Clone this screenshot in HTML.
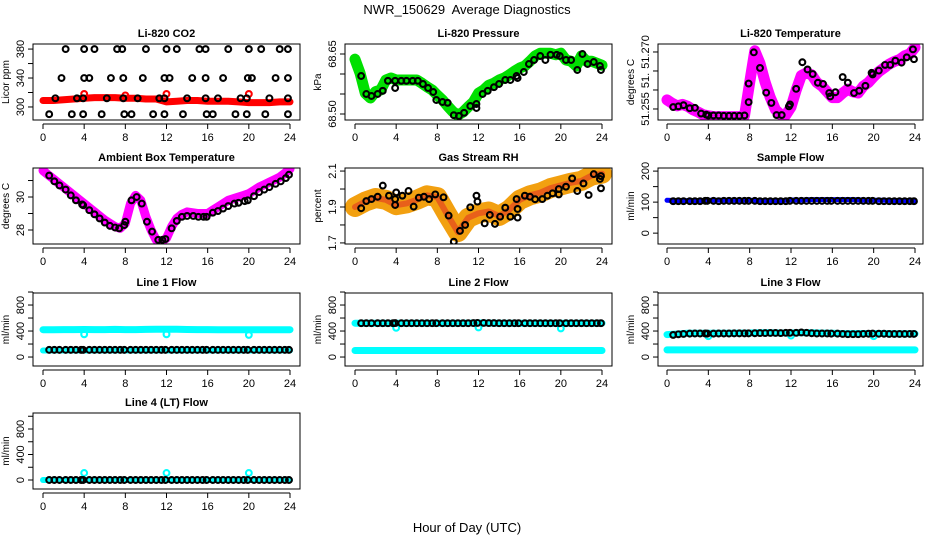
<!DOCTYPE html>
<html><head><meta charset="utf-8"><style>
html,body{margin:0;padding:0;background:#fff;}
svg{display:block;font-family:"Liberation Sans",Arial,sans-serif;}
</style></head><body>
<svg id="chart" width="936" height="540" viewBox="0 0 936 540">
<text x="467" y="14" font-size="13" text-anchor="middle">NWR_150629&#160; Average Diagnostics</text>
<text x="467" y="532" font-size="13" text-anchor="middle">Hour of Day (UTC)</text>
</svg>
<script>
// ---------- data ----------
const xTicks = [0,4,8,12,16,20,24];
const hourly = [0,1,2,3,4,5,6,7,8,9,10,11,12,13,14,15,16,17,18,19,20,21,22,23,24];
const halfHours = [0,0.5,1,1.5,2,2.5,3,3.5,4,4.5,5,5.5,6,6.5,7,7.5,8,8.5,9,9.5,10,10.5,11,11.5,12,12.5,13,13.5,14,14.5,15,15.5,16,16.5,17,17.5,18,18.5,19,19.5,20,20.5,21,21.5,22,22.5,23,23.5,24];
const circHours = [0.6,1.1,1.6,2.2,2.7,3.2,3.7,3.9,4.5,5.0,5.5,6.0,6.5,7.0,7.5,7.9,8.5,9.0,9.5,10.0,10.5,11.0,11.5,11.9,12.5,13.0,13.5,14.0,14.5,15.0,15.5,15.9,16.5,17.0,17.5,18.0,18.5,19.0,19.5,19.9,20.5,21.0,21.5,22.0,22.5,23.0,23.5,23.9];

// CO2
const co2Band = [309,309,310,311,312,313,313,313,312,312,311,311,307,308,309,309,308,308,308,307,306,306,306,307,307];
const co2Hours380 = [2.2,4,5,7.2,7.7,10,12,13,15.2,15.8,18,20,21.2,23,23.8];
const co2Hours340 = [1.8,4,4.5,6.6,7.8,9.7,11.8,12.3,14.5,15.8,17.5,19.9,20.3,22.6,23.8];
const co2Hours312 = [1.2,3.3,3.9,6.2,7.8,9.2,11.3,11.8,14,15.8,17,19.2,19.8,22,23.8];
const co2Hours290 = [0.6,2.8,3.9,5.7,7.9,8.6,10.7,11.8,13.6,15.9,16.5,18.7,19.8,21.6,23.8];
const co2Levels = [380,340,312,290];
const co2RedHours = [4,8,12,20];
const co2RedVals = [318,316,318,318];

// Pressure
const presBand = [68.637,68.602,68.552,68.54,68.556,68.56,68.585,68.59,68.585,68.585,68.585,68.585,68.585,68.577,68.568,68.56,68.547,68.535,68.52,68.506,68.497,68.505,68.518,68.53,68.552,68.56,68.572,68.577,68.585,68.59,68.598,68.607,68.615,68.62,68.632,68.645,68.652,68.652,68.652,68.648,68.652,68.635,68.632,68.62,68.645,68.632,68.632,68.627,68.622];
const presCircHours = [0.6,1.1,1.6,2.2,2.7,3.2,3.9,3.9,4.5,5.0,5.6,6.1,6.6,7.1,7.6,7.9,8.5,9.0,9.6,10.1,10.6,11.2,11.8,11.8,12.4,12.9,13.5,14.0,14.6,15.1,15.7,15.8,16.4,16.9,17.4,18.0,18.5,19.0,19.6,19.9,20.5,21.0,21.6,22.1,22.6,23.2,23.8,23.9];
const presCircVals = [68.595,68.55,68.545,68.55,68.558,68.583,68.583,68.565,68.583,68.583,68.583,68.583,68.575,68.565,68.555,68.535,68.53,68.528,68.497,68.495,68.503,68.52,68.515,68.525,68.55,68.558,68.567,68.575,68.585,68.585,68.595,68.59,68.605,68.625,68.635,68.645,68.635,68.648,68.648,68.645,68.635,68.635,68.61,68.65,68.625,68.63,68.62,68.61];

// Li-820 temperature
const tempBand = [51.2574,51.2565,51.2558,51.2562,51.2557,51.2548,51.2542,51.2535,51.2532,51.253,51.253,51.253,51.253,51.253,51.253,51.2532,51.262,51.2703,51.267,51.262,51.258,51.2548,51.2535,51.2534,51.2555,51.26,51.2638,51.2645,51.264,51.262,51.261,51.2595,51.258,51.258,51.2592,51.2602,51.2595,51.2592,51.261,51.262,51.2635,51.2648,51.2658,51.2668,51.2675,51.268,51.269,51.2695,51.2712];
const tempCircHours = [0.6,1.1,1.6,2.2,2.7,3.3,3.8,4.0,4.5,5.0,5.5,6.0,6.5,7.0,7.5,7.9,7.9,8.4,9.0,9.6,10.1,10.6,11.1,11.8,11.9,12.5,13.1,13.6,14.1,14.6,15.1,15.7,15.8,16.3,17.0,17.5,18.1,18.6,19.2,19.8,19.9,20.5,21.1,21.6,22.1,22.7,23.2,23.8,23.9];
const tempCircVals = [51.2555,51.2557,51.256,51.2552,51.2553,51.2538,51.2535,51.2533,51.2533,51.2533,51.2532,51.2532,51.2532,51.2532,51.2533,51.2568,51.2617,51.2699,51.2658,51.2593,51.2566,51.2534,51.2534,51.2557,51.2562,51.2603,51.2673,51.2654,51.2642,51.2619,51.2616,51.2592,51.2583,51.2594,51.2634,51.2619,51.2592,51.2598,51.2611,51.2645,51.2641,51.2651,51.2666,51.2666,51.2677,51.2672,51.2686,51.2707,51.2681];

// Ambient box temperature
const ambBand = [31.6,31.35,31.1,30.85,30.6,30.35,30.1,29.85,29.6,29.35,29.1,28.85,28.6,28.4,28.2,28.1,28.4,29.6,30.1,29.8,28.8,28.0,27.4,27.3,27.5,28.2,28.7,28.95,29.1,29.05,29.0,29.0,29.0,29.2,29.4,29.6,29.8,29.9,30.0,30.1,30.2,30.4,30.6,30.75,30.9,31.05,31.2,31.45,31.7];
const ambCircHours = [0.6,1.1,1.6,2.2,2.7,3.2,3.8,3.9,4.5,5.0,5.5,6.0,6.5,7.0,7.4,7.9,8.0,8.6,9.1,9.6,10.1,10.6,11.2,11.6,11.9,12.5,13.0,13.5,14.0,14.6,15.1,15.6,15.9,16.5,17.0,17.5,18.0,18.6,19.0,19.6,19.9,20.5,21.0,21.5,22.0,22.6,23.1,23.6,23.9];
const ambCircVals = [31.3,30.95,30.7,30.45,30.1,29.8,29.55,29.5,29.2,28.95,28.7,28.45,28.25,28.15,28.1,28.3,28.5,29.8,30.0,29.6,28.5,27.9,27.4,27.4,27.45,28.1,28.55,28.8,28.85,28.85,28.8,28.8,28.8,29.05,29.15,29.3,29.45,29.6,29.65,29.75,29.8,30.05,30.3,30.45,30.6,30.8,30.95,31.15,31.35];

// Gas stream RH
const rhBand = [1.90,1.93,1.95,1.94,1.91,1.92,1.94,1.965,1.955,1.855,1.76,1.84,1.865,1.875,1.85,1.885,1.94,1.965,1.98,2.005,2.02,2.035,2.045,2.075,2.085];
const rhCircHours = [0.6,1.1,1.6,2.2,2.7,3.3,3.9,3.9,4.0,4.6,5.2,5.7,6.2,6.7,7.2,7.8,8.6,9.1,9.6,10.2,10.7,11.2,11.8,11.9,12.6,13.1,13.6,14.1,14.6,15.1,15.7,15.8,15.8,16.5,17.0,17.5,18.2,18.7,19.2,19.8,19.8,20.5,21.1,21.6,22.2,22.7,23.2,23.8,23.9,23.9];
const rhCircVals = [1.893,1.933,1.944,1.957,2.019,1.963,1.911,1.944,1.981,1.963,1.989,1.902,1.952,1.957,1.944,1.970,1.954,1.852,1.707,1.767,1.800,1.898,1.963,1.930,1.809,1.856,1.806,1.846,1.896,1.846,1.944,1.889,1.841,1.963,1.957,1.943,1.944,1.963,1.976,2.000,1.970,2.013,2.059,1.989,2.031,1.967,2.083,2.056,2.072,2.004];

// Sample flow
const sampleBand = [106,105,105,105,106,106,106,106,106,105,104,105,107,107,108,108,108,108,108,107,106,106,105,105,105];
const sampleCirc = [103,103,103,103,103,103,104,104,104,103,104,104,104,104,104,104,104,103,103,103,103,103,103,104,104,104,104,104,104,104,104,104,104,104,104,104,104,104,104,104,103,103,103,103,103,103,103,103];

// Line flows
const l1Top = [420,420,422,422,424,422,422,425,422,422,425,428,426,426,424,422,422,420,420,420,420,420,420,420,420];
const l1Low = [100,100,100,100,100,100,100,100,100,100,100,100,100,100,100,100,100,100,100,100,100,100,100,100,100];
const l1Circ = [110,110,110,110,110,110,110,110,110,110,110,110,110,110,110,110,110,110,110,110,110,110,110,110,110,110,110,110,110,110,110,110,110,110,110,110,110,110,110,110,110,110,110,110,110,110,110,110];
const l1DipHours = [4,12,20];
const l1DipVals = [350,350,340];

const l2Top = [520,520,520,520,520,520,520,520,520,520,520,522,525,522,520,520,520,520,520,520,520,520,520,520,520];
const l2Low = [100,100,100,100,100,100,100,100,100,100,100,100,100,100,100,100,100,100,100,100,100,100,100,100,100];
const l2Circ = [520,520,520,520,520,520,520,522,520,520,520,520,520,520,520,520,520,520,520,520,520,520,522,525,525,522,522,520,520,520,520,520,520,520,520,520,520,520,520,520,520,520,520,520,520,520,520,520];
const l2DipHours = [4,12,20];
const l2DipVals = [450,455,440];

const l3Top = [345,355,365,365,365,365,365,368,370,372,372,370,370,372,372,368,365,360,360,362,362,362,358,358,358];
const l3Low = [110,110,110,110,110,110,110,110,110,110,110,110,110,110,110,110,110,110,110,110,110,110,110,110,110];
const l3Circ = [340,350,355,360,362,362,362,360,360,362,362,362,364,364,364,364,366,368,368,370,370,368,372,372,372,378,372,366,362,362,362,360,360,355,352,352,352,356,358,360,358,358,355,355,355,355,356,356];
const l3DipHours = [4,12,20];
const l3DipVals = [320,330,320];

const l4Low = [0,0,0,0,0,0,0,0,0,0,0,0,0,0,0,0,0,0,0,0,0,0,0,0,0];
const l4Circ = [0,0,0,0,0,0,0,0,0,0,0,0,0,0,0,0,0,0,0,0,0,0,0,0,0,0,0,0,0,0,0,0,0,0,0,0,0,0,0,0,0,0,0,0,0,0,0,0];
const l4UpHours = [4,12,20];
const l4UpVals = [110,110,110];

const flowTicks = [0,200,400,600,800,1000];
const flowLabels = [0,400,800];

// ---------- drawing ----------
const NS = 'http://www.w3.org/2000/svg';
const svg = document.getElementById('chart');
function mk(tag, attrs, parent){
  const e = document.createElementNS(NS, tag);
  for (const k in attrs) e.setAttribute(k, attrs[k]);
  (parent || svg).appendChild(e);
  return e;
}
let clipN = 0;
function makePanel(p){
  const g = mk('g', {});
  
  
  const sx = h => p.x0 + h / 24 * (p.x24 - p.x0);
  const sy = v => p.bot - (v - p.ymin) / (p.ymax - p.ymin) * (p.bot - p.top);
  const id = 'clip' + (clipN++);
  const cp = mk('clipPath', {id: id}, g);
  mk('rect', {x: p.left, y: p.top, width: p.right - p.left, height: p.bot - p.top}, cp);
  const plot = mk('g', {'clip-path': 'url(#' + id + ')'}, g);
  const t = mk('text', {x: (p.left + p.right) / 2, y: p.top - 7, 'font-size': 11, 'font-weight': 'bold', 'text-anchor': 'middle'}, g);
  t.textContent = p.title;
  
  
  const yl = mk('text', {x: 0, y: 0, 'font-size': 10, 'text-anchor': 'middle', transform: 'translate(' + (p.left - 24) + ',' + ((p.top + p.bot) / 2) + ') rotate(-90)'}, g);
  yl.textContent = p.ylab;
  
  
  const yt = p.yticks;
  mk('line', {x1: p.left, x2: p.left, y1: sy(yt[0]), y2: sy(yt[yt.length - 1]), stroke: '#000'}, g);
  yt.forEach(v => { mk('line', {x1: p.left - 5, x2: p.left, y1: sy(v), y2: sy(v), stroke: '#000'}, g); });
  p.ylabels.forEach((v, i) => {
    const tx = mk('text', {x: 0, y: 0, 'font-size': 11, 'text-anchor': 'middle', transform: 'translate(' + (p.left - 9) + ',' + sy(v) + ') rotate(-90)'}, g);
    tx.textContent = p.ylabelText ? p.ylabelText[i] : String(v);
    
    
  });
  mk('line', {x1: sx(0), x2: sx(24), y1: p.bot + 4, y2: p.bot + 4, stroke: '#000'}, g);
  xTicks.forEach(h => {
    mk('line', {x1: sx(h), x2: sx(h), y1: p.bot + 4, y2: p.bot + 9, stroke: '#000'}, g);
    const tx = mk('text', {x: sx(h), y: p.bot + 21, 'font-size': 11, 'text-anchor': 'middle'}, g);
    tx.textContent = String(h);
    
    
  });
  mk('rect', {x: p.left, y: p.top, width: p.right - p.left, height: p.bot - p.top, fill: 'none', stroke: '#000'}, g);
  return {sx, sy, plot, name: p.name};
}
function band(P, hours, vals, color, w, label){
  const pts = hours.map((h, i) => P.sx(h).toFixed(1) + ',' + P.sy(vals[i]).toFixed(1)).join(' ');
  const pl = mk('polyline', {points: pts, fill: 'none', stroke: color, 'stroke-width': w, 'stroke-linejoin': 'round', 'stroke-linecap': 'round'}, P.plot);
  
  
  return pl;
}
function circles(P, hours, vals, color, label, r){
  const g = mk('g', {}, P.plot);
  
  
  hours.forEach((h, i) => {
    const c = mk('circle', {cx: P.sx(h), cy: P.sy(vals[i]), r: r || 2.9, fill: 'none', stroke: color, 'stroke-width': 2.1}, g);
    
    
  });
}
const C1 = {left: 33, right: 300, x0: 43, x24: 290};
const C2 = {left: 345, right: 612, x0: 355, x24: 602};
const C3 = {left: 658, right: 923, x0: 667, x24: 915};
const R1 = {top: 44, bot: 120}, R2 = {top: 168, bot: 244}, R3 = {top: 293, bot: 366}, R4 = {top: 413, bot: 489};

let P = makePanel(Object.assign({name: 'co2', title: 'Li-820 CO2', ylab: 'Licor ppm', ymin: 282, ymax: 387, yticks: [300,320,340,360,380], ylabels: [300,340,380]}, C1, R1));
band(P, hourly, co2Band, '#ff0000', 7, 'co2-band');
circles(P, co2RedHours, co2RedVals, '#ff0000', 'co2-red-points');
circles(P, co2Hours380, co2Hours380.map(() => co2Levels[0]), '#000', 'co2-points-380');
circles(P, co2Hours340, co2Hours340.map(() => co2Levels[1]), '#000', 'co2-points-340');
circles(P, co2Hours312, co2Hours312.map(() => co2Levels[2]), '#000', 'co2-points-312');
circles(P, co2Hours290, co2Hours290.map(() => co2Levels[3]), '#000', 'co2-points-290');

P = makePanel(Object.assign({name: 'pressure', title: 'Li-820 Pressure', ylab: 'kPa', ymin: 68.485, ymax: 68.675, yticks: [68.50,68.55,68.60,68.65], ylabels: [68.50,68.65], ylabelText: ['68.50','68.65']}, C2, R1));
band(P, halfHours, presBand, '#00e000', 11, 'pressure-band');
circles(P, presCircHours, presCircVals, '#000', 'pressure-points');

P = makePanel(Object.assign({name: 'li-temp', title: 'Li-820 Temperature', ylab: 'degrees C', ymin: 51.2521, ymax: 51.2721, yticks: [51.255,51.260,51.265,51.270], ylabels: [51.255,51.2625,51.270], ylabelText: ['51.255','51.','51.270']}, C3, R1));
band(P, halfHours, tempBand, '#ff00ff', 11, 'temp-band');
circles(P, tempCircHours, tempCircVals, '#000', 'temp-points');

P = makePanel(Object.assign({name: 'ambient', title: 'Ambient Box Temperature', ylab: 'degrees C', ymin: 27.15, ymax: 31.76, yticks: [28,29,30,31], ylabels: [28,30]}, C1, R2));
band(P, halfHours, ambBand, '#ff00ff', 9, 'ambient-band');
circles(P, ambCircHours, ambCircVals, '#000', 'ambient-points');

P = makePanel(Object.assign({name: 'rh', title: 'Gas Stream RH', ylab: 'percent', ymin: 1.694, ymax: 2.117, yticks: [1.7,1.8,1.9,2.0,2.1], ylabels: [1.7,1.9,2.1]}, C2, R2));
band(P, hourly, rhBand, '#f2a010', 20, 'rh-band');
band(P, hourly, rhBand, '#e8601a', 6, 'rh-band-core');
circles(P, rhCircHours, rhCircVals, '#000', 'rh-points');

P = makePanel(Object.assign({name: 'sample-flow', title: 'Sample Flow', ylab: 'ml/min', ymin: -35, ymax: 210, yticks: [0,50,100,150,200], ylabels: [0,100,200]}, C3, R2));
band(P, hourly, sampleBand, '#0000ff', 5, 'sample-band');
circles(P, circHours, sampleCirc, '#000', 'sample-points');

P = makePanel(Object.assign({name: 'line1', title: 'Line 1 Flow', ylab: 'ml/min', ymin: -138, ymax: 985, yticks: flowTicks, ylabels: flowLabels}, C1, R3));
band(P, hourly, l1Top, '#00ffff', 7, 'line1-top-band');
band(P, hourly, l1Low, '#00ffff', 6, 'line1-low-band');
circles(P, l1DipHours, l1DipVals, '#00ffff', 'line1-cyan-points');
circles(P, circHours, l1Circ, '#000', 'line1-points');

P = makePanel(Object.assign({name: 'line2', title: 'Line 2 Flow', ylab: 'ml/min', ymin: -138, ymax: 985, yticks: flowTicks, ylabels: flowLabels}, C2, R3));
band(P, hourly, l2Top, '#00ffff', 7, 'line2-top-band');
band(P, hourly, l2Low, '#00ffff', 7, 'line2-low-band');
circles(P, l2DipHours, l2DipVals, '#00ffff', 'line2-cyan-points');
circles(P, circHours, l2Circ, '#000', 'line2-points');

P = makePanel(Object.assign({name: 'line3', title: 'Line 3 Flow', ylab: 'ml/min', ymin: -138, ymax: 985, yticks: flowTicks, ylabels: flowLabels}, C3, R3));
band(P, hourly, l3Top, '#00ffff', 7, 'line3-top-band');
band(P, hourly, l3Low, '#00ffff', 7, 'line3-low-band');
circles(P, l3DipHours, l3DipVals, '#00ffff', 'line3-cyan-points');
circles(P, circHours, l3Circ, '#000', 'line3-points');

P = makePanel(Object.assign({name: 'line4', title: 'Line 4 (LT) Flow', ylab: 'ml/min', ymin: -141, ymax: 1051, yticks: flowTicks, ylabels: flowLabels}, C1, R4));
band(P, hourly, l4Low, '#00ffff', 6, 'line4-band');
circles(P, l4UpHours, l4UpVals, '#00ffff', 'line4-cyan-points');
circles(P, circHours, l4Circ, '#000', 'line4-points');
</script>
</body></html>
